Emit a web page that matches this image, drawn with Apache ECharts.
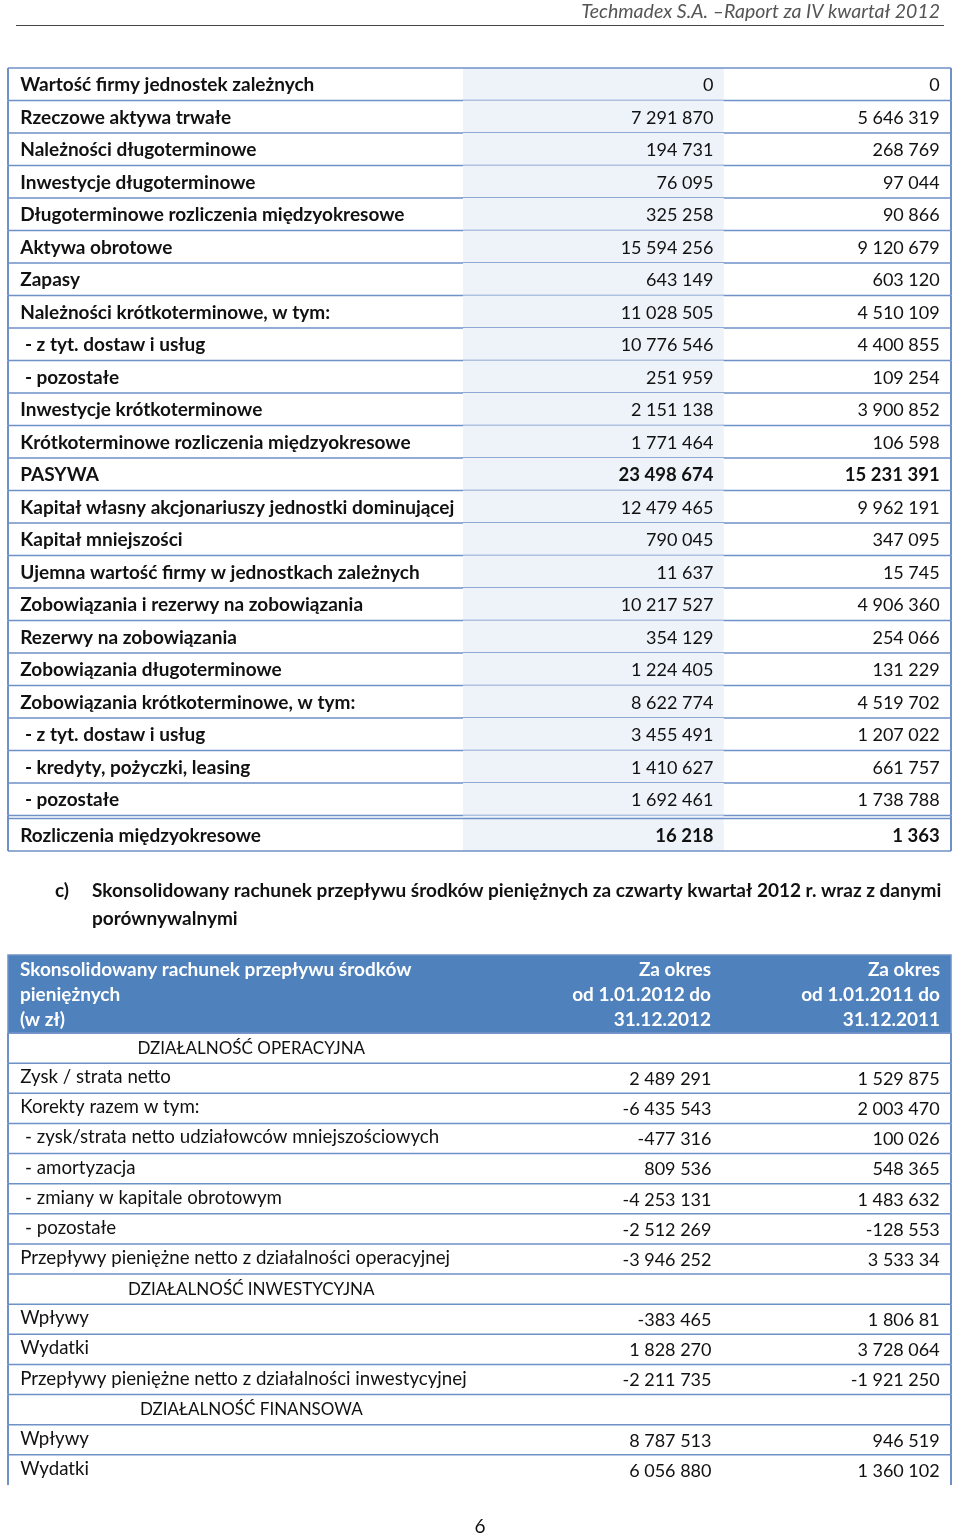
<!DOCTYPE html>
<html lang="pl" style="height: 100%">
<head>
  <meta charset="utf-8">
</head>
<body style="height: 100%; margin: 0; background: #fff">
  <div id="container" style="width: 960px; height: 1536px"></div>

  <script type="text/javascript" src="https://cdn.jsdelivr.net/npm/echarts@6/dist/echarts.min.js"></script>

  <script type="text/javascript">
    // bilans - pozycje i wartości (2012 / 2011)
    var balanceLabels = [
      'Wartość firmy jednostek zależnych',
      'Rzeczowe aktywa trwałe',
      'Należności długoterminowe',
      'Inwestycje długoterminowe',
      'Długoterminowe rozliczenia międzyokresowe',
      'Aktywa obrotowe',
      'Zapasy',
      'Należności krótkoterminowe, w tym:',
      ' - z tyt. dostaw i usług',
      ' - pozostałe',
      'Inwestycje krótkoterminowe',
      'Krótkoterminowe rozliczenia międzyokresowe',
      'PASYWA',
      'Kapitał własny akcjonariuszy jednostki dominującej',
      'Kapitał mniejszości',
      'Ujemna wartość firmy w jednostkach zależnych',
      'Zobowiązania i rezerwy na zobowiązania',
      'Rezerwy na zobowiązania',
      'Zobowiązania długoterminowe',
      'Zobowiązania krótkoterminowe, w tym:',
      ' - z tyt. dostaw i usług',
      ' - kredyty, pożyczki, leasing',
      ' - pozostałe',
      'Rozliczenia międzyokresowe'
    ];
    var balance2012 = [
      '0', '7 291 870', '194 731', '76 095', '325 258', '15 594 256', '643 149',
      '11 028 505', '10 776 546', '251 959', '2 151 138', '1 771 464', '23 498 674',
      '12 479 465', '790 045', '11 637', '10 217 527', '354 129', '1 224 405',
      '8 622 774', '3 455 491', '1 410 627', '1 692 461', '16 218'
    ];
    var balance2011 = [
      '0', '5 646 319', '268 769', '97 044', '90 866', '9 120 679', '603 120',
      '4 510 109', '4 400 855', '109 254', '3 900 852', '106 598', '15 231 391',
      '9 962 191', '347 095', '15 745', '4 906 360', '254 066', '131 229',
      '4 519 702', '1 207 022', '661 757', '1 738 788', '1 363'
    ];
    var balanceBoldValues = [12, 23];

    // rachunek przepływów pieniężnych
    var cashHeader = [
      'Skonsolidowany rachunek przepływu środków\npieniężnych\n(w zł)',
      'Za okres\nod 1.01.2012 do\n31.12.2012',
      'Za okres\nod 1.01.2011 do\n31.12.2011'
    ];
    var cashLabels = [
      'DZIAŁALNOŚĆ OPERACYJNA',
      'Zysk / strata netto',
      'Korekty razem w tym:',
      ' - zysk/strata netto udziałowców mniejszościowych',
      ' - amortyzacja',
      ' - zmiany w kapitale obrotowym',
      ' - pozostałe',
      'Przepływy pieniężne netto z działalności operacyjnej',
      'DZIAŁALNOŚĆ INWESTYCYJNA',
      'Wpływy',
      'Wydatki',
      'Przepływy pieniężne netto z działalności inwestycyjnej',
      'DZIAŁALNOŚĆ FINANSOWA',
      'Wpływy',
      'Wydatki'
    ];
    var cash2012 = [
      '', '2 489 291', '-6 435 543', '-477 316', '809 536', '-4 253 131', '-2 512 269',
      '-3 946 252', '', '-383 465', '1 828 270', '-2 211 735', '', '8 787 513', '6 056 880'
    ];
    var cash2011 = [
      '', '1 529 875', '2 003 470', '100 026', '548 365', '1 483 632', '-128 553',
      '3 533 34', '', '1 806 81', '3 728 064', '-1 921 250', '', '946 519', '1 360 102'
    ];
    var cashSections = [0, 8, 12];

    var FONT = 'Lato, "Open Sans", sans-serif';
    var LINE = '#6E91C7';
    var SHADE = '#EEF3FA';
    var HEAD_BLUE = '#4F81BD';

    var dom = document.getElementById('container');
    var myChart = echarts.init(dom, null, { renderer: 'canvas' });

    function hline(x1, x2, y, w) {
      return { type: 'line', shape: { x1: x1, y1: y, x2: x2, y2: y }, style: { stroke: LINE, lineWidth: w || 1.5 } };
    }
    function vline(x, y1, y2) {
      return { type: 'line', shape: { x1: x, y1: y1, x2: x, y2: y2 }, style: { stroke: LINE, lineWidth: 2 } };
    }
    function txt(x, y, s, align, font) {
      return {
        type: 'text',
        style: {
          x: x, y: y, text: s, fill: '#111',
          font: font + ' ' + FONT,
          align: align, verticalAlign: 'middle'
        }
      };
    }

    function renderBalance(params, api) {
      var i = params.dataIndex;
      var c = api.coord([0, i]);
      var h = api.size([0, 1])[1];
      var x0 = c[0], x1 = api.coord([100, i])[0];
      var yc = c[1], top = yc - h / 2, bot = yc + h / 2;
      var m0 = api.coord([48.25, i])[0], m1 = api.coord([75.9, i])[0];
      var last = i === balanceLabels.length - 1;
      var shift = last ? 3 : 0;
      var vf = balanceBoldValues.indexOf(i) >= 0 ? 'bold 18.5px' : '18px';
      var kids = [
        { type: 'rect', shape: { x: m0, y: top, width: m1 - m0, height: h + shift }, style: { fill: SHADE } },
        vline(x0, top, bot + shift),
        vline(x1, top, bot + shift),
        hline(x0, x1, bot + shift),
        txt(api.coord([1.3, i])[0], yc + shift + 1, balanceLabels[i], 'left', 'bold 19px'),
        txt(api.coord([74.8, i])[0], yc + shift + 1, balance2012[i], 'right', vf),
        txt(api.coord([98.8, i])[0], yc + shift + 1, balance2011[i], 'right', vf)
      ];
      if (i === 0) kids.push(hline(x0, x1, top));
      if (last) kids.push(hline(x0, x1, top + 3));
      return { type: 'group', children: kids };
    }

    function renderCash(params, api) {
      var i = params.dataIndex;
      var c = api.coord([0, i]);
      var h = api.size([0, 1])[1];
      var x0 = c[0], x1 = api.coord([100, i])[0];
      var yc = c[1], top = yc - h / 2, bot = yc + h / 2;
      var kids = [vline(x0, top, bot), vline(x1, top, bot)];
      if (i < cashLabels.length - 1) kids.push(hline(x0, x1, bot));
      if (i === 0) kids.push(hline(x0, x1, top));
      if (cashSections.indexOf(i) >= 0) {
        kids.push(txt(api.coord([25.8, i])[0], yc, cashLabels[i], 'center', '17px'));
      } else {
        kids.push(txt(api.coord([1.3, i])[0], yc - 1, cashLabels[i], 'left', '18.7px'));
      }
      kids.push(txt(api.coord([74.6, i])[0], yc + 1, cash2012[i], 'right', '18px'));
      kids.push(txt(api.coord([98.8, i])[0], yc + 1, cash2011[i], 'right', '18px'));
      return { type: 'group', children: kids };
    }

    var hiddenX = { type: 'value', min: 0, max: 100, show: false };
    var hiddenY = { type: 'category', inverse: true, show: false };

    var option = {
      animation: false,
      grid: [
        { left: 8, top: 68, width: 943, height: 780 },
        { left: 8, top: 1033, width: 943, height: 452 }
      ],
      xAxis: [
        Object.assign({ gridIndex: 0 }, hiddenX),
        Object.assign({ gridIndex: 1 }, hiddenX)
      ],
      yAxis: [
        Object.assign({ gridIndex: 0, data: balanceLabels }, hiddenY),
        Object.assign({ gridIndex: 1, data: cashLabels }, hiddenY)
      ],
      graphic: [
        {
          type: 'text',
          style: {
            x: 940, y: 12, text: 'Techmadex S.A. –Raport za IV kwartał 2012', fill: '#555',
            font: 'italic 19.5px ' + FONT, align: 'right', verticalAlign: 'middle'
          }
        },
        { type: 'line', shape: { x1: 16, y1: 25.5, x2: 944, y2: 25.5 }, style: { stroke: '#444', lineWidth: 1 } },
        {
          type: 'text',
          style: { x: 55, y: 891, text: 'c)', fill: '#111', font: 'bold 19px ' + FONT, verticalAlign: 'middle' }
        },
        {
          type: 'text',
          style: {
            x: 92, y: 877,
            text: 'Skonsolidowany rachunek przepływu środków pieniężnych za czwarty kwartał 2012 r. wraz z danymi\nporównywalnymi',
            fill: '#111', font: 'bold 19px ' + FONT, lineHeight: 28
          }
        },
        { type: 'rect', shape: { x: 8, y: 955, width: 943, height: 78 }, style: { fill: HEAD_BLUE, stroke: LINE, lineWidth: 1.5 } },
        {
          type: 'text',
          style: { x: 20, y: 957, text: cashHeader[0], fill: '#fff', font: 'bold 19px ' + FONT, lineHeight: 25 }
        },
        {
          type: 'text',
          style: { x: 711, y: 957, text: cashHeader[1], fill: '#fff', font: 'bold 19px ' + FONT, lineHeight: 25, align: 'right' }
        },
        {
          type: 'text',
          style: { x: 940, y: 957, text: cashHeader[2], fill: '#fff', font: 'bold 19px ' + FONT, lineHeight: 25, align: 'right' }
        },
        {
          type: 'text',
          style: { x: 480, y: 1527, text: '6', fill: '#111', font: '19px ' + FONT, align: 'center', verticalAlign: 'middle' }
        }
      ],
      series: [
        {
          type: 'custom',
          xAxisIndex: 0, yAxisIndex: 0,
          renderItem: renderBalance,
          data: balanceLabels.map(function (_, i) { return [50, i]; })
        },
        {
          type: 'custom',
          xAxisIndex: 1, yAxisIndex: 1,
          renderItem: renderCash,
          data: cashLabels.map(function (_, i) { return [50, i]; })
        }
      ]
    };

    myChart.setOption(option);
    window.addEventListener('resize', myChart.resize);
  </script>
</body>
</html>
